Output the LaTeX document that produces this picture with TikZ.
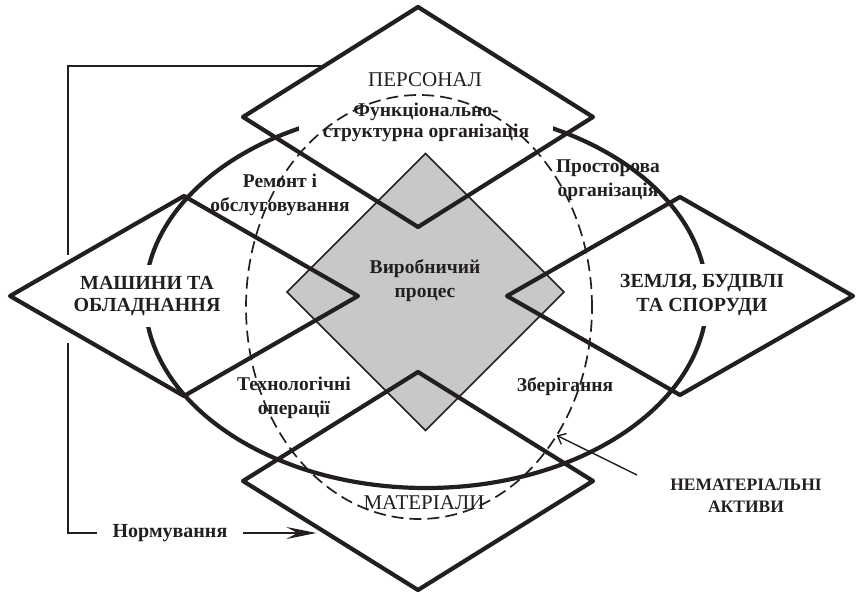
\documentclass[tikz,border=0pt]{standalone}
\usepackage{fontspec}
\setmainfont{Liberation Serif}
\usepackage{tikz}
\usetikzlibrary{shapes.geometric, arrows.meta, positioning, calc, backgrounds}
\definecolor{coregray}{HTML}{C8C8CA}
\definecolor{inkmain}{HTML}{231F20}
\tikzstyle{resource} = [diamond, draw=inkmain, line width=4.2pt, line join=round, inner sep=0pt, outer sep=0pt]
\tikzstyle{core} = [diamond, draw=inkmain, line width=1.7pt, fill=coregray, minimum width=277pt, minimum height=277pt, inner sep=0pt, outer sep=0pt]
\tikzstyle{biglabel} = [align=center, fill=white, inner sep=0pt, font=\fontsize{20}{22}\selectfont\bfseries]
\tikzstyle{titlelabel} = [align=center, inner sep=0pt, font=\fontsize{21}{23}\selectfont]
\tikzstyle{sublabel} = [align=center, inner sep=0pt, font=\fontsize{19.5}{24}\selectfont\bfseries]
\tikzstyle{bracket} = [line width=2.8pt, draw=inkmain]
\tikzstyle{arrow} = [line width=2.8pt, draw=inkmain, -{Stealth[length=30pt, width=12pt, inset=11pt]}]
\tikzstyle{pointer} = [line width=1.4pt, draw=inkmain, -{Straight Barb[length=7pt, width=12pt]}]

\begin{document}
\begin{tikzpicture}[x=1pt, y=-1pt, every node/.style={text=inkmain}]
    \useasboundingbox (0,0) rectangle (858,593);
    % production core
    \node[core] (proc) at (425.5,292) {};
    \node[sublabel] (proclbl) at (425,281) {Виробничий\\процес};
    % resources
    \node[resource, minimum width=350pt, minimum height=220pt] (pers) at (418,117) {};
    \node[resource, minimum width=348pt, minimum height=200pt] (mach) at (184,296) {};
    \node[resource, minimum width=346pt, minimum height=198pt] (land) at (680,296) {};
    \node[resource, minimum width=350pt, minimum height=218pt] (mat) at (418,481) {};
    % intangible assets
    \node[ellipse, draw=inkmain, line width=1.7pt, dash pattern=on 12pt off 6pt, minimum width=346pt, minimum height=424pt, inner sep=0pt, outer sep=0pt] (intang) at (419,307) {};

    \node[titlelabel] (perslbl) at (425,80) {ПЕРСОНАЛ};
    \node[titlelabel] (matlbl) at (424,503) {МАТЕРІАЛИ};
    \node[sublabel] (repair) at (280,195) {Ремонт і\\обслуговування};
    \node[sublabel] (spatial) at (608,180) {Просторова\\організація};
    \node[sublabel] (tech) at (294,398) {Технологічні\\операції};
    \node[sublabel] (storage) at (565,387) {Зберігання};
    \node[sublabel, font=\fontsize{17.5}{22}\selectfont\bfseries] (intanglbl) at (746,496) {НЕМАТЕРІАЛЬНІ\\АКТИВИ};

    \coordinate (intfrom) at (637,475);
    \draw[pointer] (intfrom) -- (intang.-43);

    \begin{scope}[on background layer]
        \node[ellipse, draw=inkmain, line width=4.2pt, minimum width=562pt, minimum height=380pt, inner sep=0pt] (rim) at (426,298) {};
        \coordinate (normA) at (68,255);
        \coordinate (normB) at (68,343);
        \draw[bracket] ($(pers.west)!0.464!(pers.north)$) -| (normA);
        \draw[arrow, shorten >=10pt] (normB) |- ($(mat.west)!0.477!(mat.south)$);
        \node[biglabel, font=\fontsize{19.5}{21}\selectfont\bfseries, minimum width=254pt, minimum height=48pt] (funcorg) at (426,122) {Функціонально-\\структурна організація};
        \node[biglabel, minimum width=168pt, minimum height=62pt] (machlbl) at (147,296) {МАШИНИ ТА\\ОБЛАДНАННЯ};
        \node[biglabel, minimum width=192pt, minimum height=62pt, font=\fontsize{20}{24}\selectfont\bfseries] (landlbl) at (702,295) {ЗЕМЛЯ, БУДІВЛІ\\ТА СПОРУДИ};
        \node[biglabel, minimum width=146pt, minimum height=22pt] (normlbl) at (170,533) {Нормування};
    \end{scope}
\end{tikzpicture}
\end{document}
